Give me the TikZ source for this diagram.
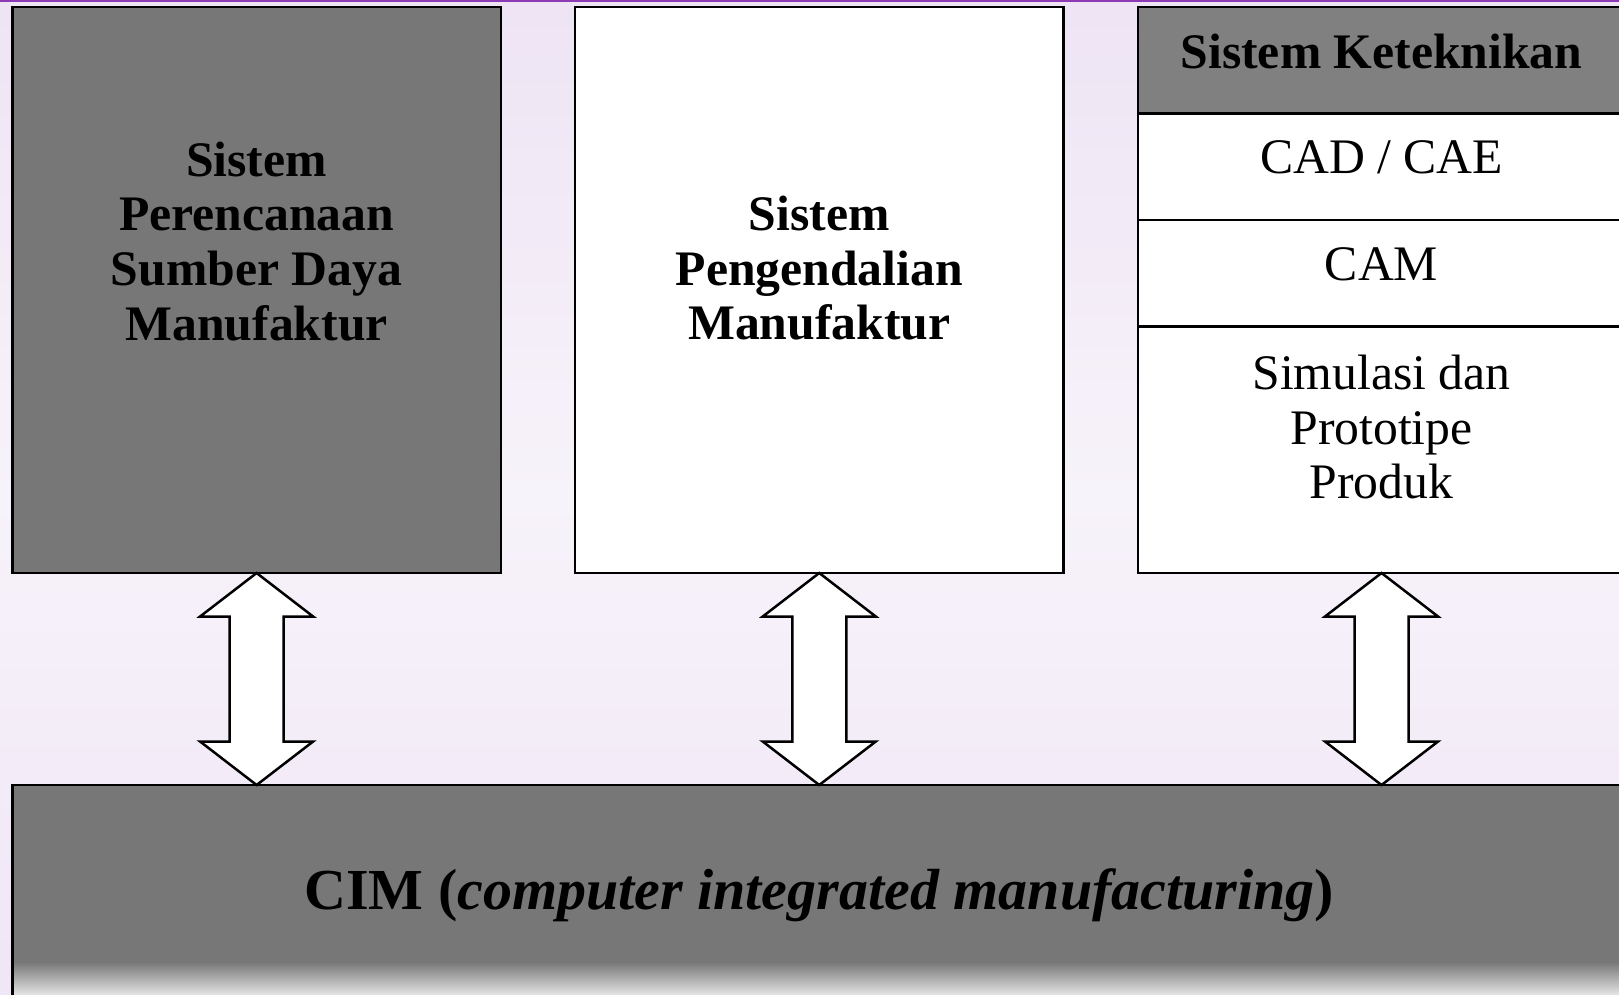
\documentclass[tikz,border=0pt]{standalone}
\usepackage{fontspec}
\setmainfont{Liberation Serif}
\usetikzlibrary{calc}
\definecolor{boxgray}{HTML}{777777}
\definecolor{headgray}{HTML}{808080}
\definecolor{bgtop}{HTML}{EEE4F4}
\definecolor{bgmid}{HTML}{F7F3FA}
\definecolor{bgbot}{HTML}{EFE6F6}
\definecolor{topline}{HTML}{8E3AB5}
\newcommand{\dblarr}[2]{%
  \path (#1.south) coordinate (t#1) (#1.south |- #2.north) coordinate (b#1);
  \draw[dblarrow] (t#1) -- ($(t#1)+(56.5,43.5)$) -- ($(t#1)+(27,43.5)$)
    -- ($(b#1)+(27,-43.5)$) -- ($(b#1)+(56.5,-43.5)$) -- (b#1)
    -- ($(b#1)+(-56.5,-43.5)$) -- ($(b#1)+(-27,-43.5)$)
    -- ($(t#1)+(-27,43.5)$) -- ($(t#1)+(-56.5,43.5)$) -- cycle;}
\begin{document}
\begin{tikzpicture}[x=1pt,y=-1pt,
  box/.style={draw=black, line width=2.5pt, inner sep=0pt, outer sep=0pt, rectangle},
  title/.style={font=\fontsize{49.7}{54.6}\selectfont\bfseries, align=center, inner sep=0pt},
  plain/.style={font=\fontsize{49.7}{54.6}\selectfont, align=center, inner sep=0pt},
  dblarrow/.style={draw=black, line width=2.5pt, fill=white, line join=miter}]
\useasboundingbox (0,0) rectangle (1619,995);
\clip (0,0) rectangle (1619,995);
\shade[top color=bgtop, bottom color=bgbot, middle color=bgmid] (0,0) rectangle (1619,995);
\fill[topline] (0,0) rectangle (1619,2.5);
% boxes
\node[box, fill=boxgray, minimum width=488.4pt, minimum height=565.8pt] (L) at (256.6,290.1) {};
\node[box, fill=white, minimum width=488.5pt, minimum height=565.8pt] (M) at (819.25,290.1) {};
\node[box, fill=white, minimum width=487pt, minimum height=565.8pt] (R) at (1381.5,290.1) {};
\node[box, fill=headgray, minimum width=487pt, minimum height=106.4pt] (RH) at (1381.5,60.4) {};
\node[box, fill=white, minimum width=487pt, minimum height=106.4pt] (R1) at (1381.5,166.8) {};
\node[box, fill=white, minimum width=487pt, minimum height=106.3pt] (R2) at (1381.5,273.15) {};
\node[box, fill=white, minimum width=487pt, minimum height=246.7pt] (R3) at (1381.5,449.65) {};
\node[box, fill=boxgray, minimum width=1613.6pt, minimum height=230pt] (C) at (819.2,900) {};
\shade[top color=boxgray, bottom color=white!91!black] (13.7,962) rectangle (1619,996);
\draw[line width=2.5pt] (C.north west) -- (C.south west);
% texts
\node[title] (Lt) at (256.6,241.3) {Sistem\\Perencanaan\\Sumber Daya\\Manufaktur};
\node[title] (Mt) at (819.25,268.3) {Sistem\\Pengendalian\\Manufaktur};
\node[title] (RHt) at (1381.5,51.4) {Sistem Keteknikan};
\node[plain] (R1t) at (1381.5,157) {CAD / CAE};
\node[plain] (R2t) at (1381.5,264) {CAM};
\node[plain] (R3t) at (1381.5,427) {Simulasi dan\\Prototipe\\Produk};
\node[font=\fontsize{58}{64}\selectfont\bfseries, inner sep=0pt] (Ct) at (819.2,895) {CIM (\textit{computer integrated manufacturing})};
% arrows
\dblarr{L}{C}
\dblarr{M}{C}
\dblarr{R}{C}
\end{tikzpicture}
\end{document}
